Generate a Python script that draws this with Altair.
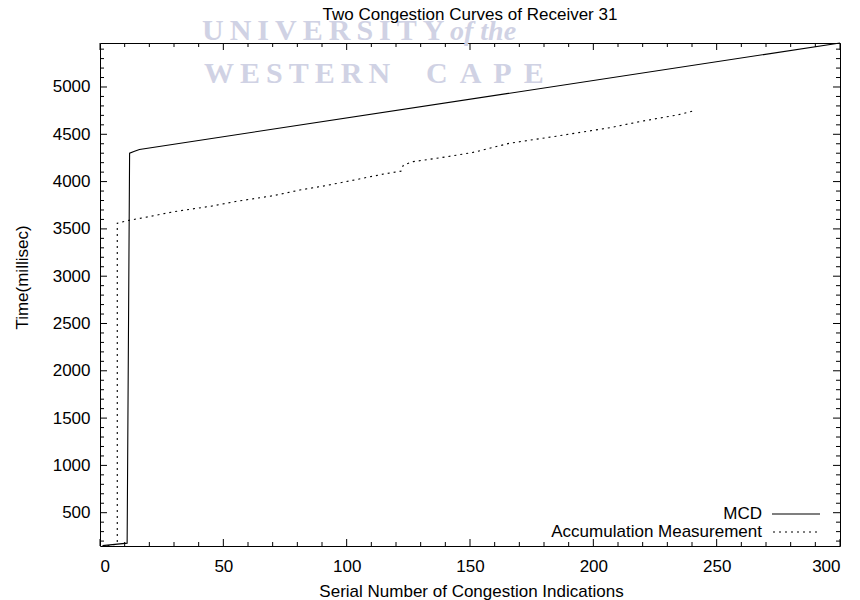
import altair as alt
import pandas as pd

# ---- data ----
mcd_x = [1, 11, 12, 14, 16, 300]
mcd_y = [152, 178, 4300, 4320, 4340, 5465]

acc_x = [3, 7, 7, 11, 20, 30, 45, 55, 70, 81, 90, 101, 115, 122, 123, 127,
         140, 151, 166, 185, 207, 220, 234, 241]
acc_y = [150, 168, 3560, 3587, 3630, 3682, 3740, 3790, 3850, 3911, 3950, 4006,
         4080, 4110, 4175, 4211, 4260, 4307, 4405, 4480, 4571, 4640, 4704, 4750]

x_major = [0, 50, 100, 150, 200, 250, 300]
x_minor = [v for v in range(0, 301, 10) if v % 50]
y_major = [500, 1000, 1500, 2000, 2500, 3000, 3500, 4000, 4500, 5000]
y_minor = [v for v in range(200, 5500, 100) if v % 500]

title_text = "Two Congestion Curves of Receiver 31"
x_title = "Serial Number of Congestion Indications"
y_title = "Time(millisec)"
legend_names = ["MCD", "Accumulation Measurement"]

W, H = 740, 503
FONT = "Liberation Sans"
FS = 17

mcd_df = pd.DataFrame({"x": mcd_x, "y": mcd_y, "i": range(len(mcd_x))})
acc_df = pd.DataFrame({"x": acc_x, "y": acc_y, "i": range(len(acc_x))})

xs = alt.Scale(domain=[0, 300], nice=False, zero=False)
ys = alt.Scale(domain=[148, 5465], nice=False, zero=False)

X = alt.X("x:Q", scale=xs, axis=alt.Axis(values=x_major, title=x_title, format="d",
                                          labelPadding=12, labelBaseline="top",
                                          titleX=371, titleY=50, titleAlign="center",
                                          titleBaseline="alphabetic"))
Y = alt.Y("y:Q", scale=ys, axis=alt.Axis(values=y_major, title=y_title, format="d",
                                          labelPadding=10,
                                          titleX=-73, titleY=234, titleAngle=-90,
                                          titleAlign="center", titleBaseline="alphabetic"))

mcd_line = alt.Chart(mcd_df).mark_line(color="black", strokeWidth=1.1).encode(
    x=X, y=Y, order="i:Q")
acc_line = alt.Chart(acc_df).mark_line(color="black", strokeWidth=1.1,
                                       strokeDash=[2, 4]).encode(
    x=X, y=Y, order="i:Q")


def xticks(vals, length):
    df = pd.DataFrame({"x": vals})
    bot = alt.Chart(df).mark_rule(color="black", strokeWidth=1).encode(
        x=X, y=alt.value(H), y2=alt.value(H - length))
    top = alt.Chart(df).mark_rule(color="black", strokeWidth=1).encode(
        x=X, y=alt.value(0), y2=alt.value(length))
    return [bot, top]


def yticks(vals, length):
    df = pd.DataFrame({"y": vals})
    left = alt.Chart(df).mark_rule(color="black", strokeWidth=1).encode(
        y=Y, x=alt.value(0), x2=alt.value(length))
    right = alt.Chart(df).mark_rule(color="black", strokeWidth=1).encode(
        y=Y, x=alt.value(W), x2=alt.value(W - length))
    return [left, right]


ticks = xticks(x_major, 7) + xticks(x_minor, 4) + yticks(y_major, 7) + yticks(y_minor, 4)


def text_layer(t, x, y, size=FS, align="left", font=FONT, color="black",
               style="normal", weight="normal", baseline="alphabetic"):
    return alt.Chart(pd.DataFrame({"t": [t]})).mark_text(
        font=font, fontSize=size, align=align, baseline=baseline, color=color,
        fontStyle=style, fontWeight=weight
    ).encode(text="t:N", x=alt.value(x), y=alt.value(y))


WM = "#d0d2e4"
thin = "\u2009"
watermark = [
    text_layer(thin.join("UNIVERSITY"), 102, -3, size=30, font="Liberation Serif",
               color=WM, weight="bold"),
    text_layer("of the", 350, -3, size=28, font="Liberation Serif", color=WM,
               style="italic", weight="bold"),
    text_layer(thin.join("WESTERN"), 104, 40, size=30,
               font="Liberation Serif", color=WM, weight="bold"),
    text_layer((thin * 2).join("CAPE"), 326, 40, size=30,
               font="Liberation Serif", color=WM, weight="bold"),
]

title = text_layer(title_text, 370, -23, align="center")

legend = [
    text_layer(legend_names[0], 662, 476, align="right"),
    text_layer(legend_names[1], 662, 494, align="right"),
    alt.Chart(pd.DataFrame({"a": [0]})).mark_rule(color="black", strokeWidth=1.1).encode(
        x=alt.value(672), x2=alt.value(720), y=alt.value(471)),
    alt.Chart(pd.DataFrame({"a": [0]})).mark_rule(color="black", strokeWidth=1.1,
                                                  strokeDash=[2, 4]).encode(
        x=alt.value(673), x2=alt.value(718), y=alt.value(489)),
]

chart = alt.layer(
    *watermark, mcd_line, acc_line, *ticks, *legend, title
).properties(
    width=W, height=H,
    autosize=alt.AutoSizeParams(type="none"),
    padding={"left": 100, "top": 43, "right": 20, "bottom": 54},
).configure_view(
    stroke="black", strokeWidth=1
).configure_axis(
    grid=False, domain=False, ticks=False, tickSize=0,
    labelFont=FONT, labelFontSize=FS, labelColor="black",
    titleFont=FONT, titleFontSize=FS, titleColor="black", titleFontWeight="normal",
)

chart.save("out.html", embed_options={"renderer": "svg", "actions": False})
